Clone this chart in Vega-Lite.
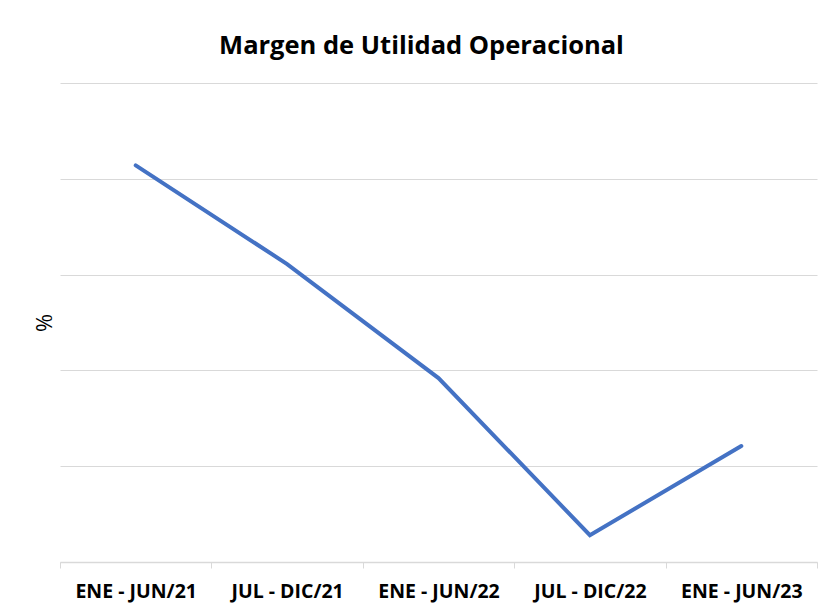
{
  "$schema": "https://vega.github.io/schema/vega-lite/v6.json",
  "autosize": "none",
  "width": 757,
  "height": 479,
  "padding": {"left": 60, "top": 83, "right": 7, "bottom": 47},
  "background": "white",
  "title": {
    "text": "Margen de Utilidad Operacional",
    "font": "Open Sans",
    "fontSize": 25.5,
    "fontWeight": "bold",
    "color": "#000000",
    "anchor": "middle",
    "offset": 24,
    "dx": -17
  },
  "data": {
    "values": [
      {"periodo": "ENE - JUN/21", "valor": 4.14},
      {"periodo": "JUL - DIC/21", "valor": 3.11},
      {"periodo": "ENE - JUN/22", "valor": 1.92},
      {"periodo": "JUL - DIC/22", "valor": 0.28},
      {"periodo": "ENE - JUN/23", "valor": 1.21}
    ]
  },
  "mark": {"type": "line", "color": "#4472C4", "strokeWidth": 4, "strokeCap": "round"},
  "encoding": {
    "x": {
      "field": "periodo",
      "type": "ordinal",
      "sort": null,
      "scale": {"type": "band", "paddingInner": 0, "paddingOuter": 0},
      "axis": {
        "title": null,
        "labelAngle": 0,
        "labelFont": "Open Sans",
        "labelFontSize": 19.5,
        "labelFontWeight": "bold",
        "labelColor": "#000000",
        "labelPadding": 14,
        "tickBand": "extent",
        "tickSize": 6,
        "tickColor": "#d9d9d9",
        "domainColor": "#d9d9d9",
        "domainWidth": 1.5,
        "grid": false
      }
    },
    "y": {
      "field": "valor",
      "type": "quantitative",
      "scale": {"domain": [0, 5], "nice": false},
      "axis": {
        "title": "%",
        "titleFont": "Open Sans",
        "titleFontSize": 22,
        "titleFontWeight": "normal",
        "titleColor": "#000000",
        "titlePadding": 4,
        "labels": false,
        "ticks": false,
        "domain": false,
        "values": [0, 1, 2, 3, 4, 5],
        "grid": true,
        "gridColor": "#d9d9d9",
        "gridWidth": 1.2
      }
    }
  },
  "config": {"view": {"stroke": null}}
}
